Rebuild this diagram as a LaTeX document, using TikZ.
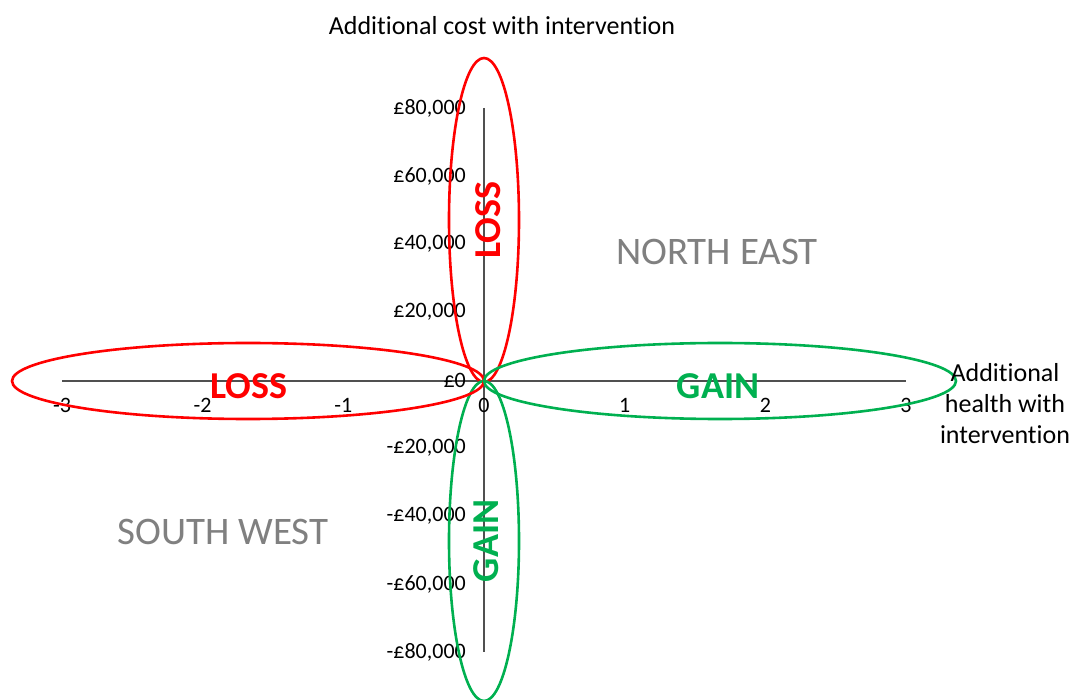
\documentclass[tikz,border=0pt]{standalone}
\usepackage{fontspec}
\setmainfont{Carlito}[Ligatures=NoCommon]
\usetikzlibrary{calc}
\definecolor{lossred}{RGB}{255,0,0}
\definecolor{gaingreen}{RGB}{0,176,80}
\definecolor{quadgray}{RGB}{128,128,128}
\definecolor{axisgray}{RGB}{80,80,80}

\begin{document}
\begin{tikzpicture}[x=1pt,y=-1pt,
    axis/.style={axisgray, line width=1.1pt},
    ticklab/.style={font=\fontsize{22}{22}\selectfont, inner sep=1pt},
    oval/.style={line width=2.6pt},
    big/.style={font=\bfseries\fontsize{38}{38}\selectfont, inner sep=0pt},
    quad/.style={quadgray, font=\fontsize{39}{39}\selectfont, inner sep=0pt}]
  \useasboundingbox (0,0) rectangle (1072,700);
            \coordinate (O) at (484,381);
            \coordinate (W) at (62,381);
            \coordinate (E) at (906,381);
            \coordinate (N) at (484,108);
            \coordinate (S) at (484,652);

            \draw[axis] (W) -- (E);
            \draw[axis] (N) -- (S);

            % tick labels
            \foreach \lab [count=\i] in {-3,-2,-1,0,1,2,3}
                \node[ticklab] (xt\i) at ({62+140.67*(\i-1)},405) {\lab};
            \foreach \lab [count=\i] in {{£80,000},{£60,000},{£40,000},{£20,000},{£0},{-£20,000},{-£40,000},{-£60,000},{-£80,000}}
                \node[ticklab, anchor=east] (yt\i) at ({467},{108+68*(\i-1)}) {\lab};

            % the four ovals
            \draw[oval, lossred] (484,220) ellipse [x radius=35pt, y radius=162pt];
            \draw[oval, gaingreen] (484,541) ellipse [x radius=35pt, y radius=160pt];
            \draw[oval, lossred] (248,381) ellipse [x radius=236pt, y radius=38pt];
            \draw[oval, gaingreen] (720,381) ellipse [x radius=236pt, y radius=38pt];

            \node[big, lossred, rotate=90] (lossN) at (488,220) {LOSS};
            \node[big, gaingreen, rotate=90] (gainS) at (486,541) {GAIN};
            \node[big, lossred] (lossW) at (249,386) {LOSS};
            \node[big, gaingreen] (gainE) at (718,386) {GAIN};

            \node[quad] (ne) at (717,252) {NORTH EAST};
            \node[quad] (sw) at (223,532) {SOUTH WEST};

            \node[font=\fontsize{26}{30}\selectfont] (ytitle) at (502,26) {Additional cost with intervention};
            \node[font=\fontsize{26}{31}\selectfont, align=center] (xtitle) at (1005,404) {Additional\\health with\\intervention};
        \end{tikzpicture}
\end{document}
